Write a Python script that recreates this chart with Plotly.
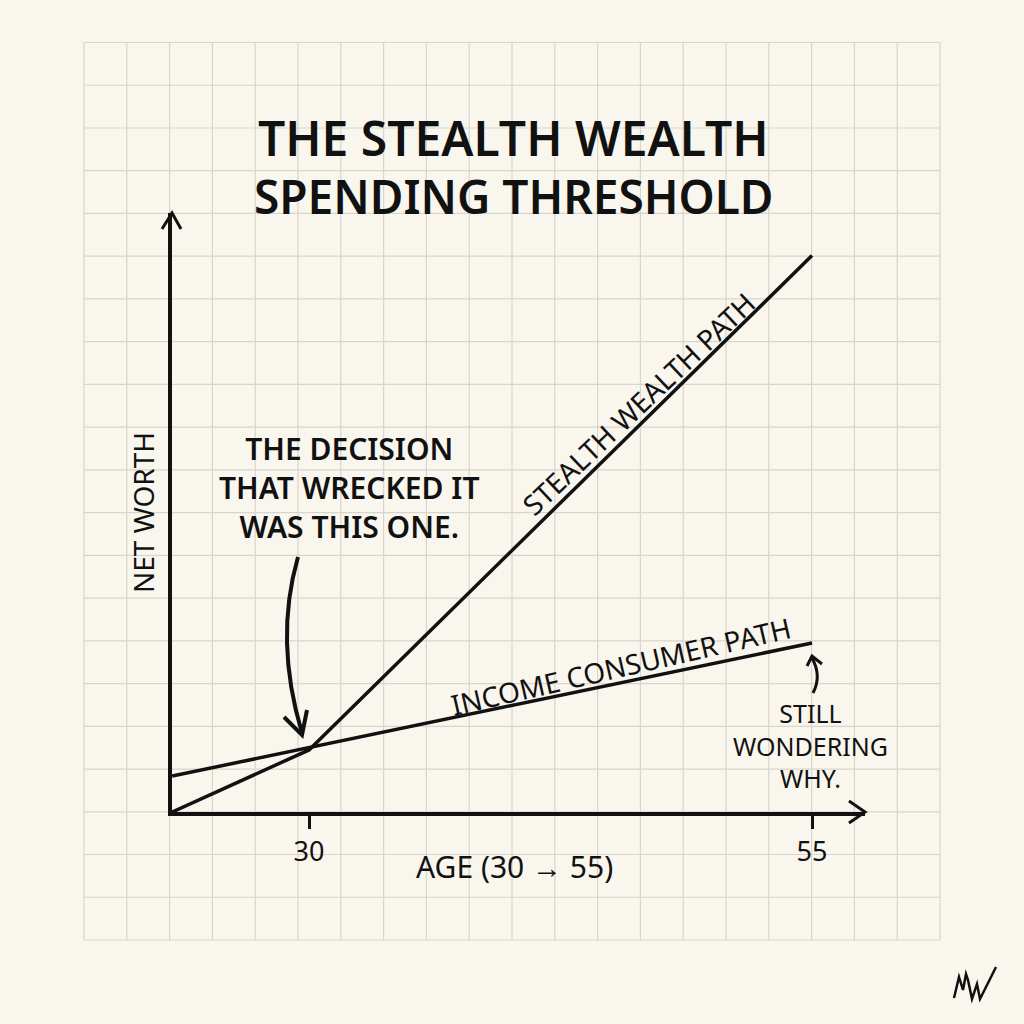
import plotly.graph_objects as go

# ---- data ----
stealth_age = [23.2, 30, 55]
stealth_worth = [0, 14.5, 130]
income_age = [23.2, 55]
income_worth = [8.4, 39.5]
tick_ages = [30, 55]
tick_labels = ["30", "55"]

W = H = 1024
BG = "#f9f6ee"
INK = "#111111"
GRID = "#d9d5cc"

def px(x):
    return x / W

def py(y):
    return 1 - y / H

# axis geometry (pixels)
X0, X1 = 172, 865   # x-axis line from origin to arrow tip
Y0, Y1 = 812, 213   # y-axis line from origin to arrow tip
per_year = (812 - 309) / 25.0
age_left = 30 - (309 - X0) / per_year
age_right = 30 + (X1 - 309) / per_year
per_unit = 4.28
worth_top = (Y0 - Y1) / per_unit

fig = go.Figure()
fig.add_trace(go.Scatter(x=stealth_age, y=stealth_worth, mode="lines",
                         line=dict(color=INK, width=3.5), cliponaxis=False,
                         hoverinfo="skip", showlegend=False))
fig.add_trace(go.Scatter(x=income_age, y=income_worth, mode="lines",
                         line=dict(color=INK, width=3.5), cliponaxis=False,
                         hoverinfo="skip", showlegend=False))

shapes = []
# grid paper
gx0, gx1, gy0, gy1 = 84, 940, 42.5, 940
for k in range(21):
    x = gx0 + k * (gx1 - gx0) / 20
    shapes.append(dict(type="line", xref="paper", yref="paper", x0=px(x), x1=px(x),
                       y0=py(gy0), y1=py(gy1), line=dict(color=GRID, width=1.2), layer="below"))
for k in range(22):
    y = gy0 + k * (gy1 - gy0) / 21
    shapes.append(dict(type="line", xref="paper", yref="paper", x0=px(gx0), x1=px(gx1),
                       y0=py(y), y1=py(y), line=dict(color=GRID, width=1.2), layer="below"))

def path(points, closed=False):
    s = "M " + " L ".join(f"{px(x):.5f},{py(y):.5f}" for x, y in points)
    return s + (" Z" if closed else "")

def pshape(d, width=3.5):
    return dict(type="path", xref="paper", yref="paper", path=d,
                line=dict(color=INK, width=width))

# axis arrowheads
shapes.append(pshape(path([(849, 801), (X1, 812), (849, 823)]), 3))
shapes.append(pshape(path([(162, 229), (172, Y1), (181, 229)]), 3))

# curved arrow from the decision note
def qpath(p0, c, p1):
    return (f"M {px(p0[0]):.5f},{py(p0[1]):.5f} Q {px(c[0]):.5f},{py(c[1]):.5f} "
            f"{px(p1[0]):.5f},{py(p1[1]):.5f}")

shapes.append(pshape(qpath((298, 557), (274, 640), (302, 733)), 4))
shapes.append(pshape(path([(284, 717), (302, 735), (307, 710)]), 4))
# small arrow to income endpoint
shapes.append(pshape(qpath((813, 693), (822, 676), (812, 658)), 3))
shapes.append(pshape(path([(807, 666), (812, 656), (822, 664)]), 3))
# signature scribble
shapes.append(pshape(path([(954, 998), (959, 977), (963, 990), (966, 974), (968, 980),
                           (972, 999), (977, 984), (980, 999), (996, 967)]), 2.5))

annotations = []
def txt(text, x, y, size, weight=500, angle=0, align="center"):
    annotations.append(dict(text=text, xref="paper", yref="paper", x=px(x), y=py(y),
                            xanchor="center", yanchor="middle", showarrow=False,
                            textangle=angle, align=align,
                            font=dict(family="Noto Sans", size=size, color=INK, weight=weight)))

txt("THE STEALTH WEALTH", 513, 137, 48, 600)
txt("SPENDING THRESHOLD", 514, 196, 46, 600)
txt("THE DECISION<br>THAT WRECKED IT<br>WAS THIS ONE.", 349, 487, 30, 600)
txt("STEALTH WEALTH PATH", 638, 404, 28, 400, angle=-43.5)
txt("INCOME CONSUMER PATH", 621, 666, 28, 400, angle=-13)
txt("STILL<br>WONDERING<br>WHY.", 810, 745, 25, 400)
txt("NET WORTH", 143, 513, 28, 400, angle=-90)
txt("AGE (30 → 55)", 514, 866, 30, 400)

fig.update_layout(
    width=W, height=H, autosize=False,
    margin=dict(l=0, r=0, t=0, b=0),
    paper_bgcolor=BG, plot_bgcolor="rgba(0,0,0,0)",
    shapes=shapes, annotations=annotations, showlegend=False,
    xaxis=dict(domain=[X0 / W, X1 / W], range=[age_left, age_right],
               showgrid=False, zeroline=False, showline=True, linecolor=INK, linewidth=3.5,
               ticks="outside", tickvals=tick_ages, ticktext=tick_labels, ticklen=13,
               tickwidth=2.5, tickcolor=INK, ticklabelstandoff=0,
               tickfont=dict(family="Noto Sans", size=27, color=INK)),
    yaxis=dict(domain=[1 - Y0 / H, 1 - Y1 / H], range=[0, worth_top],
               showgrid=False, zeroline=False, showline=True, linecolor=INK, linewidth=3.5,
               ticks="", showticklabels=False),
)
fig.write_html("out.html")
